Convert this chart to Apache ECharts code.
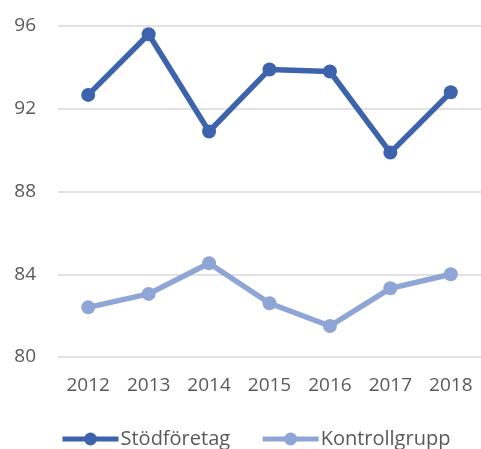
<!DOCTYPE html>
<html>
<head>
<meta charset="utf-8">
<script src="https://cdn.jsdelivr.net/npm/echarts@6/dist/echarts.min.js"></script>
<style>
  html, body { margin: 0; padding: 0; background: #fff; }
  #chart { width: 481px; height: 449px; }
</style>
</head>
<body>
<div id="chart"></div>
<script>
// Chart data
const years = ['2012', '2013', '2014', '2015', '2016', '2017', '2018'];
const stodforetag = [92.67, 95.6, 90.9, 93.9, 93.8, 89.88, 92.8];
const kontrollgrupp = [82.4, 83.05, 84.53, 82.6, 81.5, 83.32, 84.0];
const yTicks = [80, 84, 88, 92, 96];

const chart = echarts.init(document.getElementById('chart'));

const font = 'Open Sans, Liberation Sans, sans-serif';

chart.setOption({
    backgroundColor: '#fff',
    animation: false,
    grid: { left: 58, top: 26, width: 426, bottom: 92, containLabel: false },
    xAxis: {
        type: 'category',
        data: years,
        boundaryGap: true,
        axisLine: { show: false },
        axisTick: { show: false },
        axisLabel: { color: '#595959', fontSize: 19, fontFamily: font, margin: 19 }
    },
    yAxis: {
        type: 'value',
        min: yTicks[0],
        max: yTicks[yTicks.length - 1],
        interval: 4,
        axisLine: { show: false },
        axisTick: { show: false },
        splitLine: { lineStyle: { color: '#d9d9d9', width: 1.5 } },
        axisLabel: { color: '#595959', fontSize: 19, fontFamily: font, margin: 22 }
    },
    legend: {
        top: 429,
        left: 60,
        padding: 0,
        itemWidth: 56,
        itemHeight: 16,
        itemGap: 30,
        lineStyle: { width: 5 },
        textStyle: { color: '#595959', fontSize: 20, fontFamily: font, padding: [0, 0, 0, -3] },
        data: ['Stödföretag', 'Kontrollgrupp']
    },
    series: [
        {
            name: 'Stödföretag',
            type: 'line',
            data: stodforetag,
            color: '#3d63ad',
            symbol: 'circle',
            symbolSize: 14,
            lineStyle: { width: 5.5 }
        },
        {
            name: 'Kontrollgrupp',
            type: 'line',
            data: kontrollgrupp,
            color: '#8fa5d6',
            symbol: 'circle',
            symbolSize: 14,
            lineStyle: { width: 5.5 }
        }
    ]
});
</script>
</body>
</html>
